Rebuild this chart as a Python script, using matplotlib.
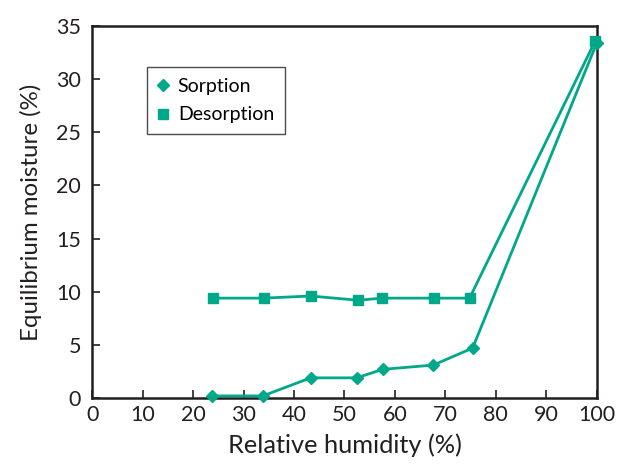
import matplotlib
matplotlib.use("Agg")
import matplotlib.pyplot as plt

sorp_x = [23.8, 33.8, 43.3, 52.4, 57.6, 67.6, 75.4, 100]
sorp_y = [0.2, 0.2, 1.9, 1.9, 2.7, 3.1, 4.7, 33.4]
desorp_x = [23.9, 34.0, 43.3, 52.7, 57.4, 67.8, 74.8, 99.7]
desorp_y = [9.4, 9.4, 9.6, 9.2, 9.4, 9.4, 9.4, 33.6]

color = "#00A88A"
plt.rcParams['font.family'] = ['Lato', 'DejaVu Sans']

fig = plt.figure(figsize=(6.19, 4.65), dpi=100)
ax = fig.add_axes([0.149, 0.144, 0.815, 0.800])
ax.plot(sorp_x, sorp_y, color=color, lw=2, marker='D', ms=6.5, label='Sorption', clip_on=False, zorder=3)
ax.plot(desorp_x, desorp_y, color=color, lw=2, marker='s', ms=7.5, label='Desorption', clip_on=False, zorder=3)
ax.set_xlim(0, 100)
ax.set_ylim(0, 35)
ax.set_xticks(range(0, 101, 10))
ax.set_yticks(range(0, 36, 5))
ax.tick_params(direction='in', length=6, width=1.2, labelsize=15.5, color='#231f20', labelcolor='#231f20')
ax.tick_params(axis='x', pad=5)
ax.tick_params(axis='y', pad=8)
for s in ax.spines.values():
    s.set_linewidth(1.8)
    s.set_color('#231f20')
ax.set_xlabel('Relative humidity (%)', fontsize=18.3, color='#231f20', labelpad=6)
ax.set_ylabel('Equilibrium moisture (%)', fontsize=17.3, color='#231f20', labelpad=10)
leg = ax.legend(loc='upper left', bbox_to_anchor=(0.108, 0.89), fontsize=14, frameon=True,
                fancybox=False, edgecolor='#231f20', handlelength=0.6, handletextpad=0.45,
                borderpad=0.55, labelspacing=0.6, borderaxespad=0)
leg.get_frame().set_linewidth(1.0)
for line in leg.get_lines():
    line.set_linestyle('')
fig.savefig('out.png', dpi=100)
